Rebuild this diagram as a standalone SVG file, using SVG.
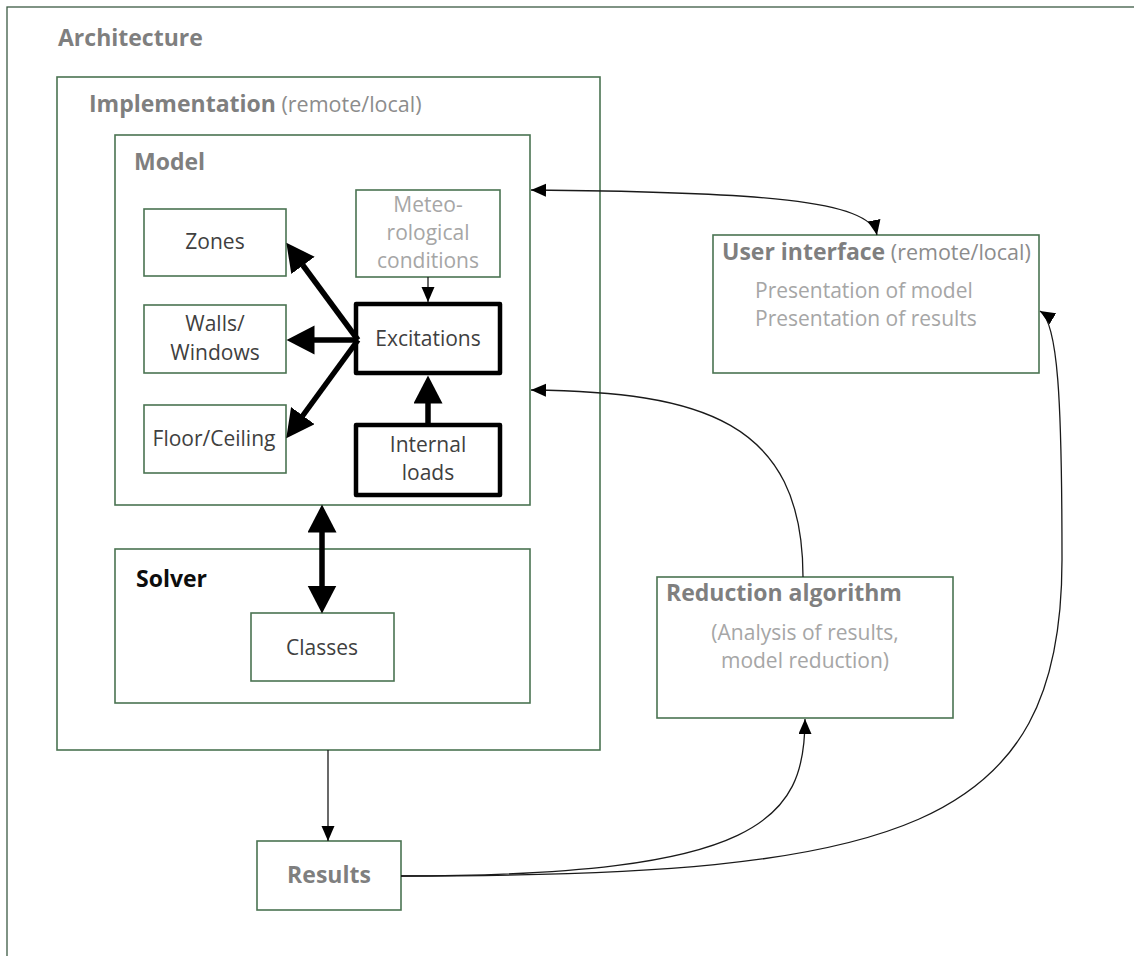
<svg xmlns="http://www.w3.org/2000/svg" width="1134" height="956" viewBox="0 0 1134 956">
<style>
.frame{fill:#fff;stroke:#3c5a44;stroke-width:1.3}
.box{fill:#fff;stroke:#4a7352;stroke-width:1.6}
.thick{fill:#fff;stroke:#000;stroke-width:4.5;stroke-linejoin:round}
.t{font-family:'Open Sans','Noto Sans',sans-serif;font-size:21px}
.b{font-weight:bold;font-size:23px}
.r{font-weight:normal;font-size:21.5px;fill:#8c8c8c}
.dark{fill:#404040}
.grey{fill:#7f7f7f}
.light{fill:#a6a6a6}
.blk{fill:#0d0d0d}
.mid{text-anchor:middle}
.thin{fill:none;stroke:#1a1a1a;stroke-width:1.3}
.fat{fill:none;stroke:#000;stroke-width:5.5}
</style>
<defs>
<marker id="ah" markerUnits="userSpaceOnUse" markerWidth="16" markerHeight="14" refX="15" refY="6.5" orient="auto-start-reverse" viewBox="0 0 16 14">
<path d="M0,0 L15,6.5 L0,13 z" fill="#000"/>
</marker>
<marker id="big" markerUnits="userSpaceOnUse" markerWidth="29" markerHeight="30" refX="0.5" refY="14.5" orient="auto-start-reverse" viewBox="0 0 29 30">
<path d="M0,0 L28,14.5 L0,29 z" fill="#000"/>
</marker>
</defs>

<g id="architecture">
<rect class="frame" x="7" y="7" width="1200" height="1000"/>
<text class="t b grey" x="58" y="46">Architecture</text>
</g>

<g id="implementation">
<rect class="box" x="57" y="77" width="543" height="673"/>
<text class="t b grey" x="89" y="112">Implementation<tspan class="r"> (remote/local)</tspan></text>
</g>

<g id="model">
<rect class="box" x="115" y="135" width="415" height="370"/>
<text class="t b grey" x="134" y="170">Model</text>
</g>

<g id="zones">
<rect class="box" x="144" y="209" width="142" height="67"/>
<text class="t dark mid" x="215" y="249">Zones</text>
</g>

<g id="walls">
<rect class="box" x="144" y="305" width="142" height="68"/>
<text class="t dark mid" x="215" y="331">Walls/</text>
<text class="t dark mid" x="215" y="360">Windows</text>
</g>

<g id="floor">
<rect class="box" x="144" y="405" width="142" height="68"/>
<text class="t dark mid" x="214" y="446">Floor/Ceiling</text>
</g>

<g id="meteo">
<rect class="box" x="356" y="190" width="144" height="87"/>
<text class="t light mid" x="428" y="212">Meteo-</text>
<text class="t light mid" x="428" y="240">rological</text>
<text class="t light mid" x="428" y="268">conditions</text>
</g>

<g id="excitations">
<rect class="thick" x="356" y="304" width="144" height="69"/>
<text class="t dark mid" x="428" y="346">Excitations</text>
</g>

<g id="internal-loads">
<rect class="thick" x="356" y="425" width="144" height="70"/>
<text class="t dark mid" x="428" y="452">Internal</text>
<text class="t dark mid" x="428" y="480">loads</text>
</g>

<g id="solver">
<rect class="box" x="115" y="549" width="415" height="154"/>
<text class="t b blk" x="136" y="587">Solver</text>
</g>

<g id="classes">
<rect class="box" x="251" y="613" width="143" height="68"/>
<text class="t dark mid" x="322" y="655">Classes</text>
</g>

<g id="user-interface">
<rect class="box" x="713" y="235" width="326" height="138"/>
<text class="t b grey" x="722" y="260">User interface<tspan class="r"> (remote/local)</tspan></text>
<text class="t light" x="755" y="298">Presentation of model</text>
<text class="t light" x="755" y="326">Presentation of results</text>
</g>

<g id="reduction">
<rect class="box" x="657" y="577" width="296" height="141"/>
<text class="t b grey" x="666" y="601">Reduction algorithm</text>
<text class="t light mid" x="805" y="640">(Analysis of results,</text>
<text class="t light mid" x="805" y="668">model reduction)</text>
</g>

<g id="results">
<rect class="box" x="257" y="841" width="144" height="69"/>
<text class="t b grey mid" x="329" y="883">Results</text>
</g>

<g id="connectors">
<path class="fat" d="M358,340 L302.7,265" marker-end="url(#big)"/>
<path class="fat" d="M358,340 L314,340" marker-end="url(#big)"/>
<path class="fat" d="M358,340 L302.5,416" marker-end="url(#big)"/>
<path class="fat" d="M428,425 L428,403" marker-end="url(#big)"/>
<path class="fat" d="M322,532 L322,586" marker-start="url(#big)" marker-end="url(#big)"/>
<path class="thin" d="M428,277 L428,302" marker-end="url(#ah)"/>
<path class="thin" d="M328,750 L328,841" marker-end="url(#ah)"/>
<path class="thin" d="M531,190 C760,192 870,200 877,235" marker-start="url(#ah)" marker-end="url(#ah)"/>
<path class="thin" d="M803,577 C803,420 700,392 531,390" marker-end="url(#ah)"/>
<path class="thin" d="M401,876 C760,876 805,820 805,719" marker-end="url(#ah)"/>
<path class="thin" d="M401,876 C900,876 1062,830 1062,560 C1062,400 1058,322 1040,311" marker-end="url(#ah)"/>
</g>
</svg>
